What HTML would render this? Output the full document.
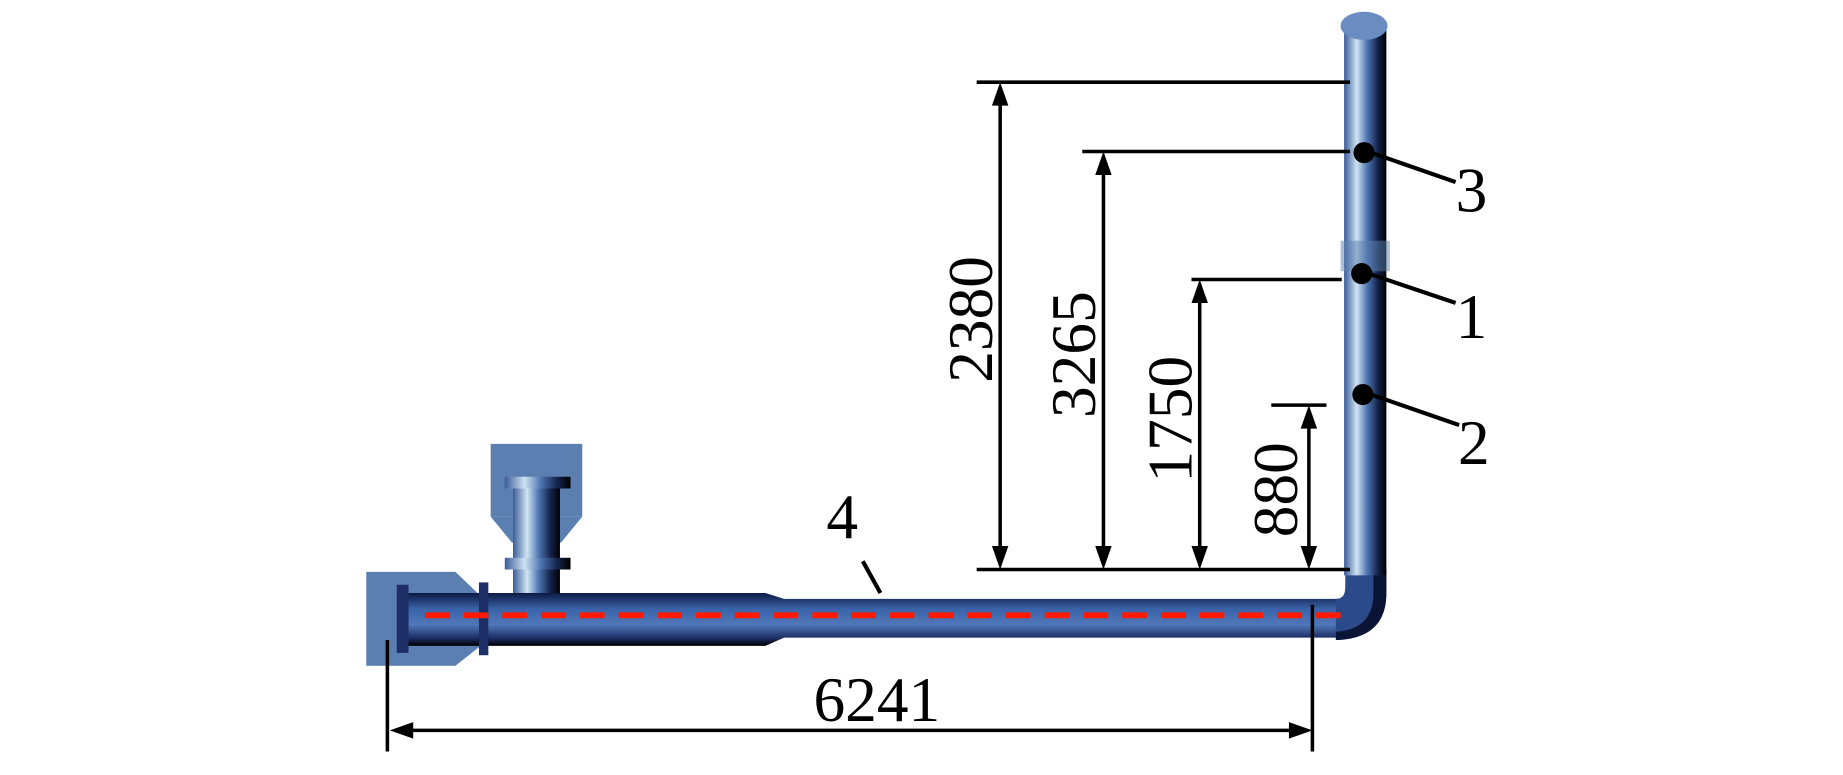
<!DOCTYPE html>
<html><head><meta charset="utf-8"><style>html,body{margin:0;padding:0;background:#fff;overflow:hidden}svg{display:block}</style></head>
<body>
<svg width="1843" height="775" viewBox="0 0 1570 660" preserveAspectRatio="none" xmlns="http://www.w3.org/2000/svg">
<defs>
<linearGradient id="gv" x1="0" x2="1" y1="0" y2="0">
<stop offset="0" stop-color="#3a5c9a"/><stop offset="0.3" stop-color="#cfe3f2"/><stop offset="0.55" stop-color="#4d74b0"/><stop offset="0.8" stop-color="#13234a"/><stop offset="1" stop-color="#000"/></linearGradient>
<linearGradient id="gh" x1="0" x2="0" y1="0" y2="1">
<stop offset="0" stop-color="#0d1a45"/><stop offset="0.3" stop-color="#3a62a8"/><stop offset="0.6" stop-color="#5078b8"/><stop offset="0.85" stop-color="#1d2f66"/><stop offset="1" stop-color="#000"/></linearGradient>
</defs>
<g fill="#5b7fb0">
<rect x="312" y="487" width="76" height="80"/>
<path d="M388,487 L412,510 L412,548 L388,567 Z"/>
<rect x="418" y="378" width="78" height="62"/>
<path d="M418,440 L496,440 L478,462 L436,462 Z"/>
</g>
<rect x="437" y="413" width="40" height="110" fill="url(#gv)"/>
<rect x="430" y="406" width="56" height="10" fill="url(#gv)"/>
<rect x="430" y="475" width="56" height="10" fill="url(#gv)"/>
<path d="M345,505 L652,505 L668,510 L1140,510 L1140,543 L668,543 L652,550 L345,550 Z" fill="url(#gh)"/>
<rect x="338" y="498" width="10" height="58" fill="#1d2f66"/>
<rect x="408" y="496" width="8" height="62" fill="#1d2f66"/>
<path d="M1138,510 Q1146,510 1146,500 L1146,485 L1181,485 L1181,505 Q1181,543 1140,545 L1138,545 Z" fill="#2a4a8a"/>
<path d="M1170,485 L1181,485 L1181,505 Q1181,543 1140,545 L1138,545 L1138,538 Q1170,536 1170,505 Z" fill="#0a1535"/>
<rect x="1145" y="22" width="36" height="468" fill="url(#gv)"/>
<ellipse cx="1162" cy="22" rx="20" ry="12" fill="#6a8cc0"/>
<rect x="1142" y="205" width="42" height="26" fill="#5b7fb0" opacity="0.5"/>
<line x1="362" y1="524" x2="1152" y2="524" stroke="#ff1a00" stroke-width="5" stroke-dasharray="21 12"/>
<g stroke="#000" stroke-width="3" fill="none">
<line x1="832" y1="70" x2="1150" y2="70"/>
<line x1="922" y1="129" x2="1150" y2="129"/>
<line x1="1015" y1="238" x2="1143" y2="238"/>
<line x1="1083" y1="345" x2="1130" y2="345"/>
<line x1="832" y1="485" x2="1150" y2="485"/>
<line x1="852" y1="84" x2="852" y2="471"/>
<line x1="940" y1="143" x2="940" y2="471"/>
<line x1="1022" y1="252" x2="1022" y2="471"/>
<line x1="1115" y1="359" x2="1115" y2="471"/>
<line x1="330" y1="545" x2="330" y2="640"/>
<line x1="1118" y1="515" x2="1118" y2="640"/>
<line x1="345" y1="622" x2="1104" y2="622"/>
</g>
<g stroke="#000" stroke-width="3.5" fill="none">
<line x1="1168" y1="130" x2="1240" y2="155"/>
<line x1="1166" y1="233" x2="1240" y2="258"/>
<line x1="1168" y1="336" x2="1243" y2="362"/>
<line x1="735" y1="478" x2="750" y2="505"/>
</g>
<g fill="#000">
<path d="M852,70 l-7,20 h14z M852,485 l-7,-20 h14z"/>
<path d="M940,129 l-7,20 h14z M940,485 l-7,-20 h14z"/>
<path d="M1022,238 l-7,20 h14z M1022,485 l-7,-20 h14z"/>
<path d="M1115,345 l-7,20 h14z M1115,485 l-7,-20 h14z"/>
<path d="M332,622 l20,-7 v14z M1118,622 l-20,-7 v14z"/>
<circle cx="1162" cy="130" r="9"/><circle cx="1160" cy="233" r="9"/><circle cx="1161" cy="336" r="9"/>
</g>
<g font-family="Liberation Serif, serif" font-size="54" fill="#000">
<text x="1240" y="180">3</text>
<text x="1240" y="288">1</text>
<text x="1242" y="395">2</text>
<text x="704" y="458">4</text>
<text x="693" y="614">6241</text>
<text transform="translate(845,272) rotate(-90)" text-anchor="middle">2380</text>
<text transform="translate(933,302) rotate(-90)" text-anchor="middle">3265</text>
<text transform="translate(1015,357) rotate(-90)" text-anchor="middle">1750</text>
<text transform="translate(1105,417) rotate(-90)" text-anchor="middle">880</text>
</g>
</svg>
</body></html>
